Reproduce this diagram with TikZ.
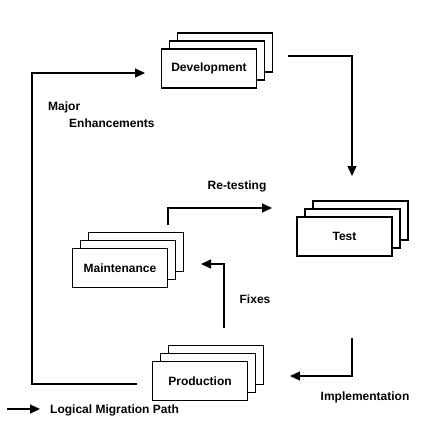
\documentclass[tikz,border=0pt]{standalone}
\usepackage{fontspec}
\setmainfont{Liberation Sans}
\usetikzlibrary{arrows.meta}

\begin{document}
\begin{tikzpicture}[x=1pt, y=-1pt,
    font=\bfseries\fontsize{12}{14}\selectfont,
    card/.style={rectangle, draw, fill=white, line width=1.2pt, minimum width=95pt, minimum height=39pt, inner sep=0pt},
    flow/.style={-{Triangle[length=10pt,width=9pt]}, line width=1.2pt},
    label/.style={inner sep=0pt}]
    \useasboundingbox (0,0) rectangle (439,439);

    % stack of three cards, front one carries the text
    \newcommand{\stack}[4]{%
        \node[card] (#1-back) at (#2+16, #3-16) {};
        \node[card] (#1-mid) at (#2+8, #3-8) {};
        \node[card] (#1) at (#2, #3) {#4};
    }

    \stack{dev}{209}{68.5}{Development}
    \stack{test}{344.5}{236.5}{Test}
    \stack{maint}{120}{268}{Maintenance}
    \stack{prod}{200}{381}{Production}

    % free ends of the migration paths
    \coordinate (devout) at (288, 56);
    \coordinate (testin) at (352, 176);
    \coordinate (testout) at (352, 338);
    \coordinate (prodin) at (290, 376);
    \coordinate (prodout) at (137, 384);
    \coordinate (devin) at (145, 73);
    \coordinate (produp) at (224, 328);
    \coordinate (maintin) at (201, 264);
    \coordinate (maintout) at (168, 225);
    \coordinate (testback) at (272, 208);

    \draw[flow] (devout) -| (testin);
    \draw[flow] (testout) |- (prodin);
    \draw[flow] (prodout) -- ++(-105, 0) |- (devin);
    \draw[flow] (produp) |- (maintin);
    \draw[flow] (maintout) |- (testback);

    \node[label, anchor=west] (major) at (48, 107) {Major};
    \node[label, anchor=west] (enh) at (69, 123) {Enhancements};
    \node[label] (retest) at (237, 186) {Re-testing};
    \node[label] (fixes) at (255, 299) {Fixes};
    \node[label] (impl) at (365, 397) {Implementation};

    % legend
    \coordinate (legstart) at (7, 409);
    \coordinate (legend tip) at (40, 409);
    \draw[flow] (legstart) -- (legend tip);
    \node[label, anchor=west] (legend) at (50, 410) {Logical Migration Path};
\end{tikzpicture}
\end{document}
